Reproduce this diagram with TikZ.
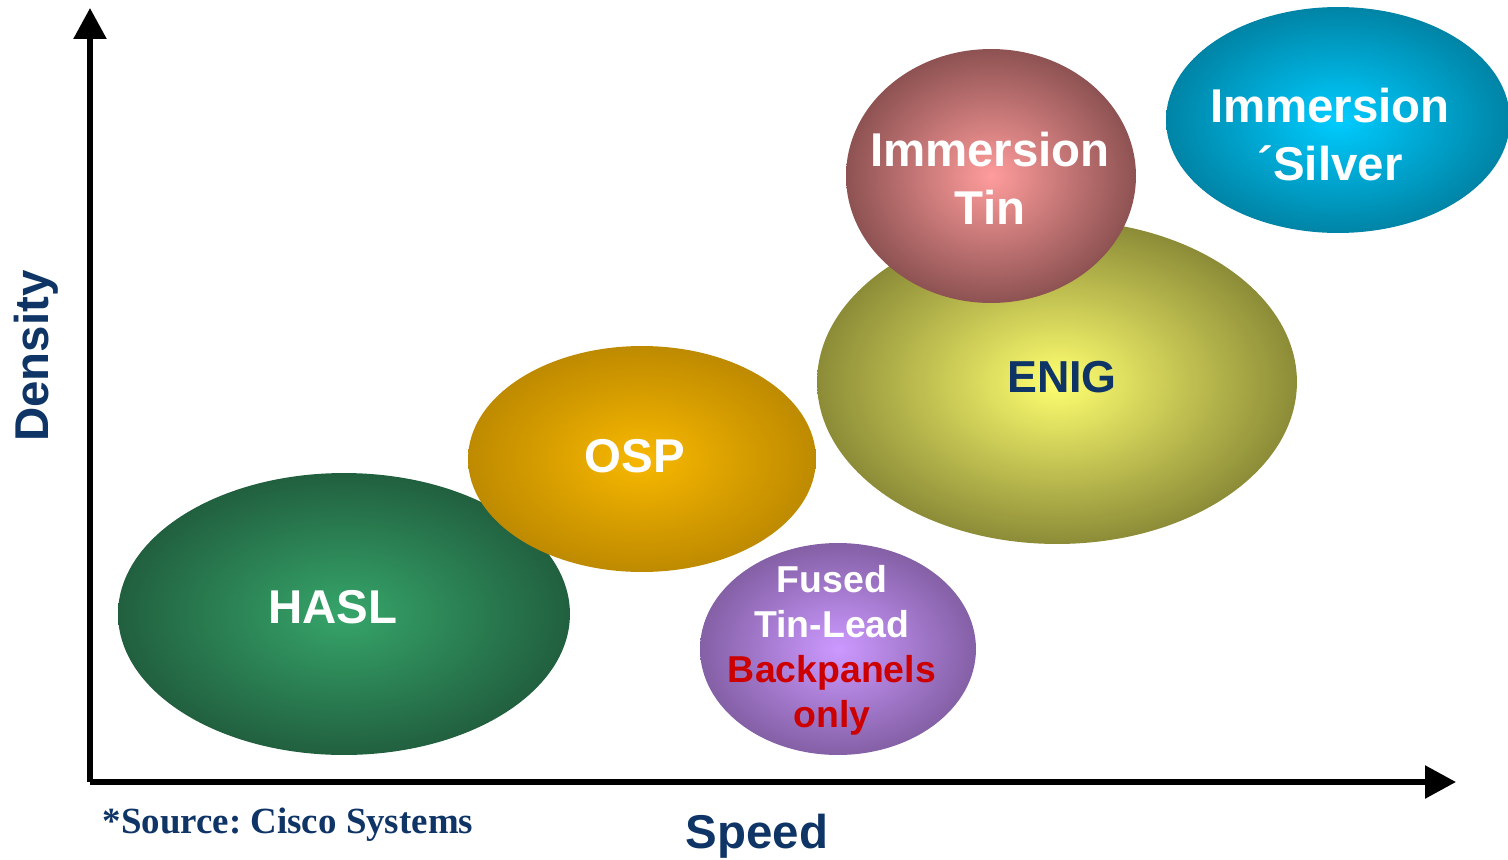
\documentclass[tikz,border=0pt]{standalone}
\usepackage{fontspec}
\setmainfont{Liberation Sans}
\newfontfamily\serifbold{Liberation Serif}
\usetikzlibrary{shapes.geometric,arrows.meta}
\frenchspacing

\definecolor{navy}{HTML}{0F3466}
\definecolor{redtxt}{HTML}{CC0000}
\definecolor{haslOut}{HTML}{21603F}
\definecolor{haslIn}{HTML}{36A56A}
\definecolor{ospOut}{HTML}{BE8A00}
\definecolor{ospIn}{HTML}{F8B800}
\definecolor{fusedOut}{HTML}{8460A6}
\definecolor{fusedIn}{HTML}{CC99FF}
\definecolor{enigOut}{HTML}{8C8C38}
\definecolor{enigIn}{HTML}{FFFF70}
\definecolor{tinOut}{HTML}{8E5252}
\definecolor{tinIn}{HTML}{FF9C9C}
\definecolor{silverOut}{HTML}{0084A6}
\definecolor{silverIn}{HTML}{00CCFF}

\tikzset{
  blob/.style 2 args={ellipse, draw=none, inner sep=0pt,
    inner color=#1, outer color=#2},
  big/.style={font=\fontsize{27}{33}\selectfont\bfseries, align=center, inner sep=0pt},
  small/.style={font=\fontsize{21.3}{25.6}\selectfont\bfseries, align=center, inner sep=0pt},
  axis/.style={line width=3.2pt, -{Triangle[length=0.62cm,width=0.64cm]}},
}

\begin{document}
\begin{tikzpicture}[x=0.02cm, y=-0.02cm]
\useasboundingbox (0,0) rectangle (1508,859);

% axes
\coordinate (O) at (90,782);
\coordinate (ytop) at (90,8);
\coordinate (xend) at (1456,782);
\draw[axis] (O) -- (ytop);
\draw[axis] (O) -- (xend);

% finish regions
\node[blob={haslIn}{haslOut}, minimum width=9.04cm, minimum height=5.64cm] (hasl) at (344,614) {};
\node[blob={ospIn}{ospOut}, minimum width=6.96cm, minimum height=4.52cm] (osp) at (642,459) {};
\node[blob={fusedIn}{fusedOut}, minimum width=5.52cm, minimum height=4.24cm] (fused) at (838,649) {};
\node[blob={enigIn}{enigOut}, minimum width=9.6cm, minimum height=6.48cm] (enig) at (1057,382) {};
\node[blob={tinIn}{tinOut}, minimum width=5.8cm, minimum height=5.08cm] (tin) at (991,176) {};
\node[blob={silverIn}{silverOut}, minimum width=6.88cm, minimum height=4.52cm] (silver) at (1338,120) {};

% labels
\node[big, text=white] (haslT) at (333,607) {HASL};
\node[big, text=white] (ospT) at (635,456) {OSP};
\node[big, text=navy, font=\fontsize{25.5}{33}\selectfont\bfseries] (enigT) at (1062,377) {ENIG};
\node[big, text=white] (tinT) at (990,178) {Immersion\\Tin};
\node[big, text=white] (silverT) at (1330,135) {Immersion\\´Silver};
\node[small] (fusedT) at (832,650) {\textcolor{white}{Fused}\\\textcolor{white}{Tin-Lead}\\\textcolor{redtxt}{Backpanels}\\\textcolor{redtxt}{only}};

% axis titles and note
\node[big, text=navy, rotate=90] (density) at (36,356) {Density};
\node[big, text=navy] (speed) at (757,836) {Speed};
\node[text=navy, inner sep=0pt, font=\serifbold\fontsize{21}{25}\selectfont\bfseries] (source) at (288,825) {*Source: Cisco Systems};
\end{tikzpicture}
\end{document}
